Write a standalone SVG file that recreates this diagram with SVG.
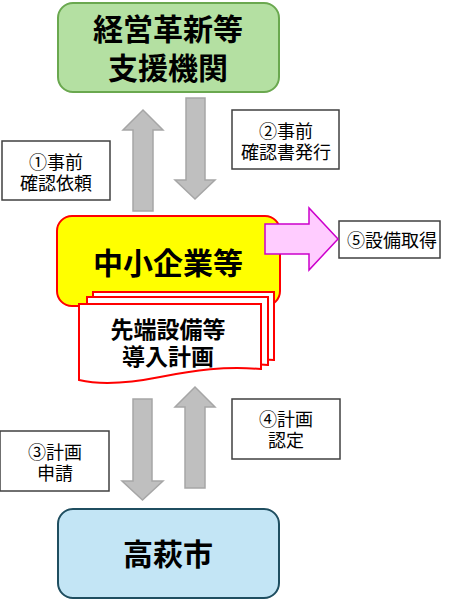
<svg xmlns="http://www.w3.org/2000/svg" width="450" height="600" viewBox="0 0 450 600">
<style>
text{font-family:"Noto Sans CJK JP","Noto Sans CJK SC",sans-serif;fill:#000;text-anchor:middle}
.big{font-size:30px;font-weight:bold}
.mid{font-size:23px;font-weight:bold}
.lbl{font-size:18px}
.lbox{fill:#fff;stroke:#404040;stroke-width:1.5}
.garrow{fill:#bfbfbf;stroke:#a6a6a6;stroke-width:1.5}
.doc{fill:#fff;stroke:#ff0000;stroke-width:2}
</style>
<rect width="450" height="600" fill="#fff"/>
<g id="node-shien">
<rect x="58" y="3" width="221" height="89" rx="15" fill="#b4e0a2" stroke="#6aa84f" stroke-width="2"/>
<text class="big" x="168" y="40">経営革新等<tspan x="168" dy="39">支援機関</tspan></text>
</g>
<g id="label-1">
<rect class="lbox" x="2" y="141" width="108" height="59"/>
<text class="lbl" x="56" y="169">①事前<tspan x="56" dy="21">確認依頼</tspan></text>
</g>
<g id="label-2">
<rect class="lbox" x="232" y="110" width="107" height="59"/>
<text class="lbl" x="286" y="138">②事前<tspan x="286" dy="21">確認書発行</tspan></text>
</g>
<g id="node-chusho">
<rect x="57" y="216" width="223" height="90" rx="15" fill="#ffff00" stroke="#ff0000" stroke-width="2"/>
<text class="big" x="168" y="274">中小企業等</text>
</g>
<g id="label-5">
<rect class="lbox" x="339" y="221" width="101" height="37"/>
<text class="lbl" x="392" y="247">⑤設備取得</text>
</g>
<g id="node-plan">
<path class="doc" d="M93,292 H274 V360 C250,358 240,360 230,362 L93,362 Z"/>
<path class="doc" d="M87,297 H268 V365 C245,363 235,365 225,367 L87,367 Z"/>
<path class="doc" d="M79,304 H261 V369 C225,366 195,370 160,377 C125,384 100,385 79,380 Z"/>
<text class="mid" x="168" y="338">先端設備等<tspan x="168" dy="27">導入計画</tspan></text>
</g>
<g id="label-3">
<rect class="lbox" x="0" y="431" width="109" height="60"/>
<text class="lbl" x="55" y="459">③計画<tspan x="55" dy="21">申請</tspan></text>
</g>
<g id="label-4">
<rect class="lbox" x="232" y="399" width="108" height="60"/>
<text class="lbl" x="286" y="426">④計画<tspan x="286" dy="21">認定</tspan></text>
</g>
<g id="node-takahagi">
<rect x="58" y="509" width="221" height="89" rx="15" fill="#c3e5f5" stroke="#1f4e60" stroke-width="2"/>
<text class="big" x="168" y="565">高萩市</text>
</g>
<g id="connectors">
<path class="garrow" d="M133,211 V130 H123 L143,110 L163,130 H153 V211 Z"/>
<path class="garrow" d="M186,98 H205 V180 H215 L195,199 L175,180 H186 Z"/>
<path class="garrow" d="M133,399 H152 V481 H163 L142.5,500 L122,481 H133 Z"/>
<path class="garrow" d="M185,488 V407 H175 L195,387 L215,407 H205 V488 Z"/>
<path d="M265,224 H309 V208 L338,239 L309,270 V254 H265 Z" fill="#ffccff" stroke="#cc00cc" stroke-width="1.5"/>
</g>
</svg>
